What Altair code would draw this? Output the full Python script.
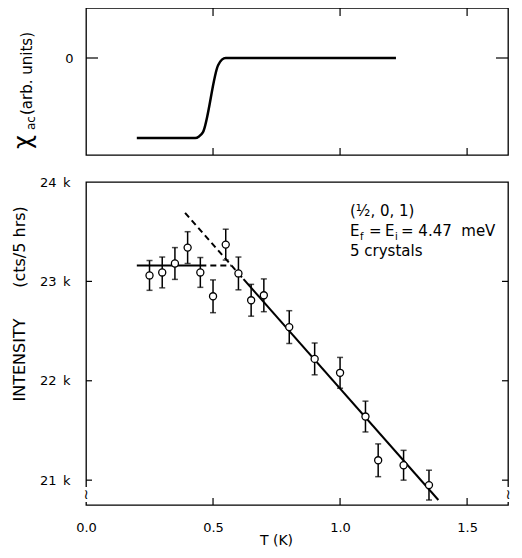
import altair as alt
import pandas as pd

# ---------------- data ----------------
# top panel: ac susceptibility trace
chi_T = [0.20, 0.43, 0.445, 0.46, 0.52, 0.535, 0.55, 1.22]
chi_val = [-1.0, -1.0, -0.98, -0.93, -0.09, -0.02, 0.0, 0.0]

# bottom panel: neutron intensity
T_pts = [0.25, 0.30, 0.35, 0.40, 0.45, 0.50, 0.55, 0.60, 0.65, 0.70, 0.80, 0.90, 1.00, 1.10, 1.15, 1.25, 1.35]
I_pts = [23060, 23090, 23180, 23340, 23090, 22850, 23370, 23080, 22810, 22860, 22540, 22220, 22080, 21640, 21200, 21150, 20950]
I_err = [150, 155, 160, 160, 150, 165, 155, 165, 160, 165, 165, 160, 155, 155, 165, 150, 150]

# guide lines (solid / dashed segments)
solid_seg = ["flat", "flat", "slope", "slope"]
solid_T = [0.20, 0.45, 0.62, 1.387]
solid_I = [23160, 23160, 23023, 20800]
dash_seg = ["flat", "flat", "slope", "slope"]
dash_T = [0.45, 0.572, 0.39, 0.62]
dash_I = [23160, 23160, 23690, 23023]

x_ticks = [0.5, 1.0, 1.5]
x_labels = [0.0, 0.5, 1.0, 1.5]
top_y_ticks = [0.0]
bot_y_ticks = [21000, 22000, 23000]
bot_y_labels = [21000, 22000, 23000, 24000]

# ---------------- layout constants ----------------
W = 422
H_TOP = 147
H_BOT = 323
FONT = "DejaVu Sans"
X_MAX = 1.661

xs = alt.Scale(domain=[0, X_MAX], nice=False, zero=False)
ys_top = alt.Scale(domain=[-1.2125, 0.625], nice=False, zero=False)
ys_bot = alt.Scale(domain=[20750, 24000], nice=False, zero=False)

top_yaxis = alt.Axis(values=top_y_ticks, ticks=False, domain=False, grid=False,
                     labelPadding=13, title=None, format="d")
bot_xaxis = alt.Axis(values=x_labels, ticks=False, domain=False, grid=False,
                     labelPadding=16, format=".1f", labelFlush=False,
                     title="T (K)", titleX=190, titleY=39, titleAlign="center",
                     titleBaseline="alphabetic")
bot_yaxis = alt.Axis(values=bot_y_labels, ticks=False, domain=False, grid=False,
                     labelPadding=16,
                     labelExpr="format(datum.value/1000, 'd') + '\u2002k'",
                     title=None)

XT = alt.X("t:Q", scale=xs, axis=None)
XB = alt.X("t:Q", scale=xs, axis=bot_xaxis)
YT = alt.Y("v:Q", scale=ys_top, axis=top_yaxis)
YB = alt.Y("v:Q", scale=ys_bot, axis=bot_yaxis)


def text_at(txt, x, y, size=15, angle=0, align="left", baseline="alphabetic"):
    return alt.Chart(pd.DataFrame({"d": [0]})).mark_text(
        text=txt, x=x, y=y, fontSize=size, angle=angle, align=align,
        baseline=baseline, font=FONT, color="black")


# ---------------- top panel ----------------
chi_df = pd.DataFrame({"t": chi_T, "v": chi_val})
xt_df = pd.DataFrame({"t": x_ticks})
yt_df = pd.DataFrame({"v": top_y_ticks})

curve = alt.Chart(chi_df).mark_line(color="black", strokeWidth=2.5, interpolate="monotone").encode(
    x=XT, y=YT)
top_xt_b = alt.Chart(xt_df).mark_rule(color="black", strokeWidth=1.2).encode(
    x=XT, y=alt.value(H_TOP), y2=alt.value(H_TOP - 7))
top_xt_t = alt.Chart(xt_df).mark_rule(color="black", strokeWidth=1.2).encode(
    x=XT, y=alt.value(0), y2=alt.value(8))
top_yt_l = alt.Chart(yt_df).mark_rule(color="black", strokeWidth=1.2).encode(
    y=YT, x=alt.value(0), x2=alt.value(12))
top_yt_r = alt.Chart(yt_df).mark_rule(color="black", strokeWidth=1.2).encode(
    y=YT, x=alt.value(W), x2=alt.value(W - 12))

top = alt.layer(
    curve, top_xt_b, top_xt_t, top_yt_l, top_yt_r,
    text_at("χ", -55, 141, size=24, angle=270),
    text_at("ac", -51, 122, size=12, angle=270),
    text_at("(arb. units)", -54, 107, size=15, angle=270),
).properties(width=W, height=H_TOP)

# ---------------- bottom panel ----------------
pts_df = pd.DataFrame({"t": T_pts, "v": I_pts, "e": I_err})
pts_df["lo"] = pts_df["v"] - pts_df["e"]
pts_df["hi"] = pts_df["v"] + pts_df["e"]
solid_df = pd.DataFrame({"seg": solid_seg, "t": solid_T, "v": solid_I})
dash_df = pd.DataFrame({"seg": dash_seg, "t": dash_T, "v": dash_I})
byt_df = pd.DataFrame({"v": bot_y_ticks})

solid = alt.Chart(solid_df).mark_line(color="black", strokeWidth=2).encode(
    x=XB, y=YB, detail="seg:N")
dashed = alt.Chart(dash_df).mark_line(color="black", strokeWidth=2, strokeDash=[6, 4]).encode(
    x=XB, y=YB, detail="seg:N")
bars = alt.Chart(pts_df).mark_rule(color="black", strokeWidth=1.5).encode(
    x=XB, y=alt.Y("lo:Q", scale=ys_bot, axis=bot_yaxis), y2="hi:Q")
cap_lo = alt.Chart(pts_df).mark_tick(color="black", orient="horizontal", size=6, thickness=1.5).encode(
    x=XB, y=alt.Y("lo:Q", scale=ys_bot, axis=bot_yaxis))
cap_hi = alt.Chart(pts_df).mark_tick(color="black", orient="horizontal", size=6, thickness=1.5).encode(
    x=XB, y=alt.Y("hi:Q", scale=ys_bot, axis=bot_yaxis))
circles = alt.Chart(pts_df).mark_point(shape="circle", size=50, filled=True, fill="white",
                                        stroke="black", strokeWidth=1.3, opacity=1).encode(
    x=XB, y=YB)
bot_xt = alt.Chart(xt_df).mark_rule(color="black", strokeWidth=1.2).encode(
    x=XB, y=alt.value(H_BOT), y2=alt.value(H_BOT - 7))
bot_yt_l = alt.Chart(byt_df).mark_rule(color="black", strokeWidth=1.2).encode(
    y=YB, x=alt.value(0), x2=alt.value(6))
bot_yt_r = alt.Chart(byt_df).mark_rule(color="black", strokeWidth=1.2).encode(
    y=YB, x=alt.value(W), x2=alt.value(W - 6))

def gap_at(x):
    return alt.Chart(pd.DataFrame({"d": [0]})).mark_rect(color="white").encode(
        x=alt.value(x - 3), x2=alt.value(x + 3), y=alt.value(305), y2=alt.value(320))

bottom = alt.layer(
    solid, dashed, bars, cap_lo, cap_hi, circles, bot_xt, bot_yt_l, bot_yt_r,
    gap_at(0), gap_at(W),
    text_at("≀", 0, 313, size=14, align="center", baseline="middle"),
    text_at("≀", W, 313, size=14, align="center", baseline="middle"),
    # y-axis title (two words spread as in the original)
    text_at("(cts/5 hrs)", -61, 65, size=16, angle=270, align="center"),
    text_at("INTENSITY", -61, 178, size=16, angle=270, align="center"),
    text_at("(½, 0, 1)", 264, 34),
    text_at("E", 264, 54),
    text_at("f", 274, 58, size=10),
    text_at("=", 283, 54),
    text_at("E", 299, 54),
    text_at("i", 309, 58, size=10),
    text_at("= 4.47\u00a0 meV", 315, 54),
    text_at("5 crystals", 264, 74),
).properties(width=W, height=H_BOT)

chart = alt.vconcat(top, bottom, spacing=18).properties(
    padding={"left": 3, "top": -2, "right": 0, "bottom": 0}
).configure_view(stroke="black", strokeWidth=1.3).configure_axis(
    labelFont=FONT, titleFont=FONT, labelFontSize=13, titleFontSize=14,
    labelColor="black", titleColor="black", titleFontWeight="normal"
)

chart.save("out.html", embed_options={"renderer": "svg", "actions": False})
